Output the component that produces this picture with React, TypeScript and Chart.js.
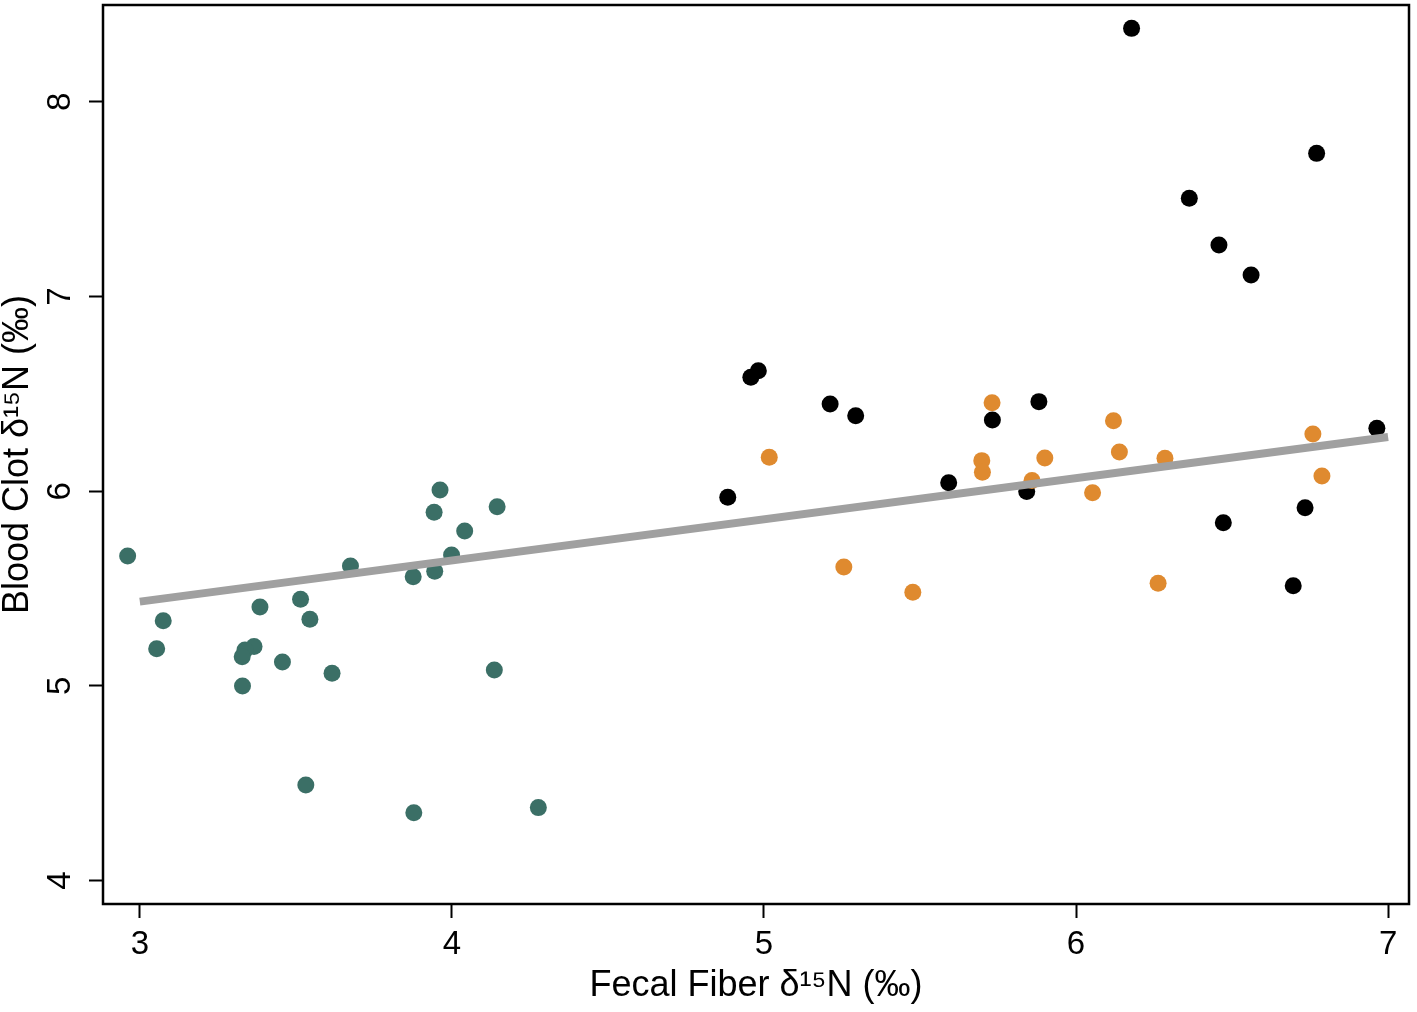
import React, { useEffect, useRef } from "react";
import { Chart, registerables } from "chart.js";

Chart.register(...registerables);

// Group 1 (teal)
const tealX = [2.961, 3.075, 3.054, 3.385, 3.515, 3.545, 3.366, 3.337, 3.328, 3.457, 3.616, 3.329, 3.532, 3.675, 3.876, 3.945, 3.999, 4.041, 3.943, 3.962, 4.145, 4.136, 3.878, 4.277];
const tealY = [5.667, 5.335, 5.191, 5.405, 5.445, 5.342, 5.202, 5.185, 5.150, 5.123, 5.065, 5.000, 4.491, 5.616, 5.561, 5.589, 5.672, 5.796, 5.892, 6.006, 5.920, 5.082, 4.349, 4.375];

// Group 2 (orange)
const orangeX = [5.017, 5.731, 5.698, 5.700, 5.900, 5.859, 6.053, 5.256, 5.477, 6.120, 6.139, 6.285, 6.759, 6.788, 6.263];
const orangeY = [6.174, 6.454, 6.157, 6.097, 6.170, 6.055, 5.992, 5.611, 5.481, 6.362, 6.201, 6.169, 6.294, 6.078, 5.527];

// Group 3 (black)
const blackX = [4.958, 4.982, 5.212, 5.294, 4.884, 5.732, 5.881, 5.592, 5.842, 6.964, 6.734, 6.472, 6.696, 6.178, 6.771, 6.363, 6.458, 6.561];
const blackY = [6.585, 6.619, 6.448, 6.388, 5.969, 6.366, 6.460, 6.044, 5.998, 6.323, 5.915, 5.838, 5.515, 8.377, 7.735, 7.504, 7.264, 7.110];

// Regression line endpoints
const fitX = [3, 7];
const fitY = [5.433, 6.278];

const xTicks = [3, 4, 5, 6, 7];
const yTicks = [4, 5, 6, 7, 8];

const xTitle = "Fecal Fiber δ¹⁵N (‰)";
const yTitle = "Blood Clot δ¹⁵N (‰)";

const FONT = "'Liberation Sans', Arial, Helvetica, sans-serif";

const toPts = (xs: number[], ys: number[]) => xs.map((x, i) => ({ x, y: ys[i] }));

const framePlugin = {
  id: "frame",
  beforeDatasetsDraw(chart: any) {
    const { ctx, chartArea } = chart;
    ctx.save();
    ctx.strokeStyle = "#000";
    ctx.lineWidth = 2.5;
    ctx.strokeRect(chartArea.left, chartArea.top, chartArea.right - chartArea.left, chartArea.bottom - chartArea.top);
    ctx.restore();
  },
};

export default function App() {
  const ref = useRef<HTMLCanvasElement | null>(null);

  useEffect(() => {
    if (!ref.current) return;
    const chart = new Chart(ref.current, {
      type: "scatter",
      data: {
        datasets: [
          {
            type: "line",
            label: "fit",
            data: toPts(fitX, fitY),
            borderColor: "#a0a0a0",
            borderWidth: 8,
            pointRadius: 0,
            borderCapStyle: "butt",
            fill: false,
            order: 0,
          } as any,
          {
            label: "teal",
            data: toPts(tealX, tealY),
            backgroundColor: "#3b6f66",
            borderWidth: 0,
            pointRadius: 8.5,
            order: 1,
          },
          {
            label: "orange",
            data: toPts(orangeX, orangeY),
            backgroundColor: "#df8a2f",
            borderWidth: 0,
            pointRadius: 8.5,
            order: 1,
          },
          {
            label: "black",
            data: toPts(blackX, blackY),
            backgroundColor: "#000000",
            borderWidth: 0,
            pointRadius: 8.5,
            order: 1,
          },
        ],
      },
      options: {
        responsive: false,
        animation: false,
        layout: { autoPadding: false, padding: { top: 5, right: 8, left: 0, bottom: 0 } },
        plugins: {
          legend: { display: false },
          tooltip: { enabled: false },
        },
        scales: {
          x: {
            type: "linear",
            min: 2.882,
            max: 7.067,
            afterBuildTicks: (s: any) => {
              s.ticks = xTicks.map((v) => ({ value: v }));
            },
            afterFit: (s: any) => {
              s.height = 108;
              s.paddingLeft = 0;
              s.paddingRight = 0;
              s.paddingTop = 0;
              s.paddingBottom = 0;
            },
            border: { display: false },
            grid: {
              display: true,
              drawOnChartArea: false,
              drawTicks: true,
              tickLength: 14,
              tickWidth: 2,
              tickColor: "#000",
            },
            ticks: {
              color: "#000",
              font: { family: FONT, size: 33, lineHeight: 1.2 },
              padding: 7,
              maxRotation: 0,
              minRotation: 0,
              callback: (v: any) => String(v),
            },
            title: {
              display: true,
              text: xTitle,
              color: "#000",
              font: { family: FONT, size: 36, lineHeight: 1 },
              padding: { top: 0, bottom: 8 },
            },
          },
          y: {
            type: "linear",
            min: 3.88,
            max: 8.497,
            afterBuildTicks: (s: any) => {
              s.ticks = yTicks.map((v) => ({ value: v }));
            },
            afterFit: (s: any) => {
              s.width = 103;
              s.paddingTop = 0;
              s.paddingBottom = 0;
              s.paddingLeft = 0;
              s.paddingRight = 0;
            },
            border: { display: false },
            grid: {
              display: true,
              drawOnChartArea: false,
              drawTicks: true,
              tickLength: 14,
              tickWidth: 2,
              tickColor: "#000",
            },
            ticks: {
              color: "#000",
              font: { family: FONT, size: 33, lineHeight: 1.2 },
              padding: 19,
              minRotation: 90,
              maxRotation: 90,
              crossAlign: "center",
              callback: (v: any) => String(v),
            },
            title: {
              display: true,
              text: yTitle,
              color: "#000",
              font: { family: FONT, size: 36, lineHeight: 1 },
              padding: { top: 0, bottom: 0 },
            },
          },
        },
      },
      plugins: [framePlugin],
    });
    return () => chart.destroy();
  }, []);

  return (
    <div style={{ position: "fixed", left: 0, top: 0, width: 1417, height: 1012, background: "#fff" }}>
      <canvas ref={ref} width={1417} height={1012} style={{ display: "block" }} />
    </div>
  );
}
